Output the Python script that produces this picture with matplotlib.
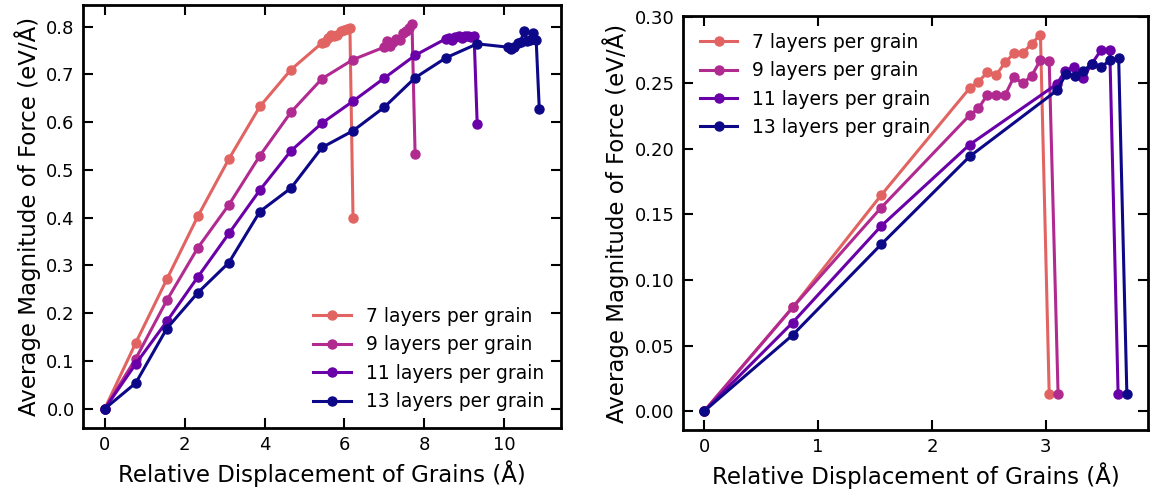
import matplotlib
matplotlib.use("Agg")
import matplotlib.pyplot as plt
from matplotlib import cm
from matplotlib.ticker import FormatStrFormatter

# ---------------- data ----------------
labels = ["7 layers per grain", "9 layers per grain",
          "11 layers per grain", "13 layers per grain"]

# Left panel
left_x_7 = [0, 0.777, 1.554, 2.331, 3.108, 3.885, 4.662, 5.439,
            5.517, 5.594, 5.672, 5.750, 5.827, 5.905, 5.983, 6.060, 6.138, 6.216]
left_y_7 = [0.0, 0.138, 0.271, 0.403, 0.523, 0.633, 0.710, 0.766,
            0.768, 0.776, 0.782, 0.780, 0.783, 0.791, 0.793, 0.795, 0.797, 0.400]

left_x_9 = [0, 0.777, 1.554, 2.331, 3.108, 3.885, 4.662, 5.439, 6.216, 6.993,
            7.071, 7.148, 7.226, 7.304, 7.382, 7.459, 7.537, 7.615, 7.692, 7.770]
left_y_9 = [0.0, 0.105, 0.227, 0.337, 0.427, 0.530, 0.621, 0.691, 0.731, 0.757,
            0.770, 0.759, 0.768, 0.775, 0.773, 0.787, 0.790, 0.797, 0.805, 0.533]

left_x_11 = [0, 0.777, 1.554, 2.331, 3.108, 3.885, 4.662, 5.439, 6.216, 6.993,
             7.770, 8.547, 8.625, 8.702, 8.780, 8.858, 8.935, 9.013, 9.091,
             9.168, 9.246, 9.324]
left_y_11 = [0.0, 0.094, 0.183, 0.276, 0.367, 0.458, 0.540, 0.598, 0.644, 0.692,
             0.740, 0.775, 0.777, 0.773, 0.778, 0.780, 0.776, 0.780, 0.781,
             0.779, 0.781, 0.597]

left_x_13 = [0, 0.777, 1.554, 2.331, 3.108, 3.885, 4.662, 5.439, 6.216, 6.993,
             7.770, 8.547, 9.324, 10.101, 10.179, 10.256, 10.334, 10.412, 10.490,
             10.567, 10.645, 10.723, 10.800, 10.878]
left_y_13 = [0.0, 0.054, 0.168, 0.243, 0.306, 0.413, 0.462, 0.547, 0.582, 0.631,
             0.693, 0.735, 0.764, 0.757, 0.754, 0.758, 0.766, 0.768, 0.790,
             0.769, 0.771, 0.787, 0.773, 0.628]

# Right panel
right_x_7 = [0, 0.777, 1.554, 2.331, 2.409, 2.486, 2.564, 2.642, 2.720,
             2.797, 2.875, 2.953, 3.030]
right_y_7 = [0.0, 0.079, 0.1645, 0.246, 0.251, 0.258, 0.256, 0.2656, 0.2725,
             0.2725, 0.280, 0.2867, 0.013]

right_x_9 = [0, 0.777, 1.554, 2.331, 2.409, 2.486, 2.564, 2.642, 2.720,
             2.797, 2.875, 2.953, 3.030, 3.108]
right_y_9 = [0.0, 0.079, 0.155, 0.2254, 0.2307, 0.2409, 0.2406, 0.2406, 0.2546,
             0.2496, 0.2554, 0.2674, 0.2664, 0.013]

right_x_11 = [0, 0.777, 1.554, 2.331, 3.095, 3.170, 3.250, 3.330, 3.405,
              3.485, 3.562, 3.635]
right_y_11 = [0.0, 0.0675, 0.141, 0.203, 0.249, 0.259, 0.2625, 0.254, 0.2648,
              0.275, 0.275, 0.013]

right_x_13 = [0, 0.777, 1.554, 2.331, 3.100, 3.176, 3.254, 3.330, 3.405,
              3.485, 3.562, 3.640, 3.712]
right_y_13 = [0.0, 0.058, 0.127, 0.194, 0.2445, 0.2567, 0.2554, 0.259, 0.2648,
              0.2618, 0.2674, 0.2687, 0.013]

left_series = [(left_x_7, left_y_7), (left_x_9, left_y_9),
               (left_x_11, left_y_11), (left_x_13, left_y_13)]
right_series = [(right_x_7, right_y_7), (right_x_9, right_y_9),
                (right_x_11, right_y_11), (right_x_13, right_y_13)]

colors = [cm.plasma(v) for v in (0.6, 0.4, 0.2, 0.0)]

# ---------------- figure ----------------
fig = plt.figure(figsize=(11.51, 4.93), dpi=100)
ax1 = fig.add_axes([0.0721, 0.1318, 0.4153, 0.858])
ax2 = fig.add_axes([0.5934, 0.1278, 0.4040, 0.8398])


def style(ax):
    for s in ax.spines.values():
        s.set_linewidth(2.0)
    ax.tick_params(direction="in", top=True, right=True, length=7, width=1.5,
                   labelsize=13, pad=6)
    ax.set_xlabel("Relative Displacement of Grains (Å)", fontsize=16.5)
    ax.set_ylabel("Average Magnitude of Force (eV/Å)", fontsize=16.5)


for (x, y), c, lab in zip(left_series, colors, labels):
    ax1.plot(x, y, "-o", color=c, lw=2.2, ms=6.5, label=lab)
for (x, y), c, lab in zip(right_series, colors, labels):
    ax2.plot(x, y, "-o", color=c, lw=2.2, ms=6.5, label=lab)

style(ax1)
style(ax2)
ax1.set_xticks([0, 2, 4, 6, 8, 10])
ax1.set_yticks([0.0, 0.1, 0.2, 0.3, 0.4, 0.5, 0.6, 0.7, 0.8])
ax2.set_xticks([0, 1, 2, 3])
ax2.set_yticks([0.0, 0.05, 0.10, 0.15, 0.20, 0.25, 0.30])
ax2.yaxis.set_major_formatter(FormatStrFormatter("%.2f"))
ax1.yaxis.set_major_formatter(FormatStrFormatter("%.1f"))

ax1.legend(loc="lower right", frameon=False, fontsize=13.5)
ax2.legend(loc="upper left", frameon=False, fontsize=13.5)

fig.savefig("out.png", dpi=100)
